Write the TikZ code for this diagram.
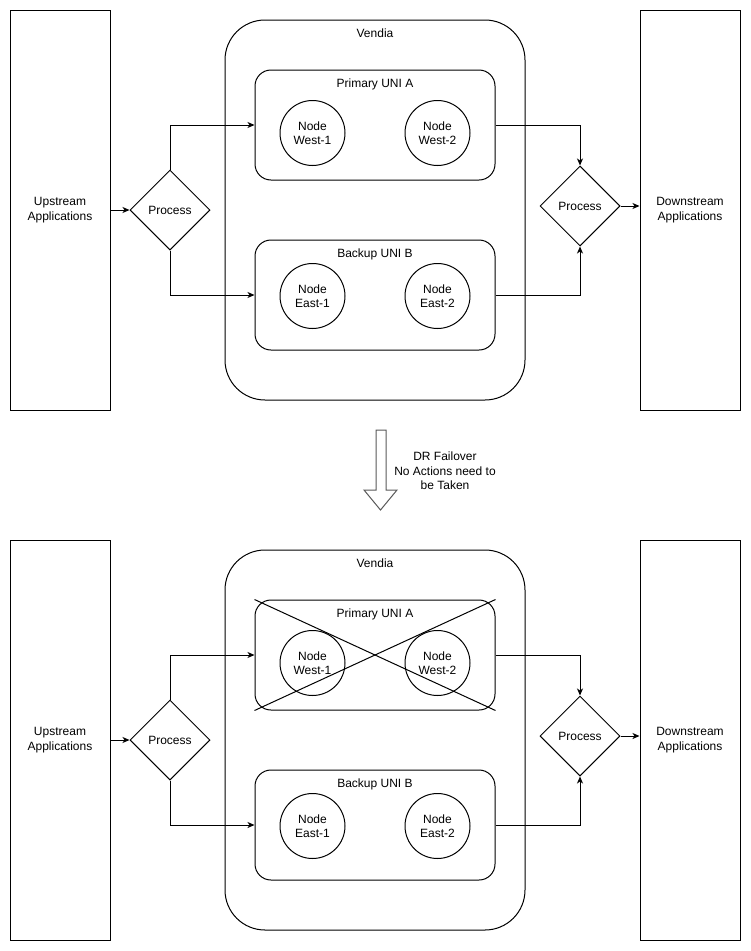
\documentclass[tikz,border=0pt]{standalone}
\usepackage{fontspec}
\setmainfont{Liberation Sans}
\usetikzlibrary{shapes.geometric,arrows.meta}

\tikzset{
  txt/.style={font=\fontsize{12}{14.4}\selectfont,align=center},
  appbox/.style={txt,draw,rectangle,minimum width=100pt,minimum height=400pt},
  procbox/.style={txt,draw,diamond,minimum width=80pt,minimum height=80pt,inner sep=1pt},
  vendbox/.style={draw,rectangle,rounded corners=40pt,minimum width=300pt,minimum height=380pt},
  unibox/.style={draw,rectangle,rounded corners=16pt,minimum width=240pt,minimum height=110pt},
  nodecirc/.style={txt,draw,circle,minimum size=65pt,inner sep=0pt},
  boxlabel/.style={txt,anchor=north,yshift=-5.5pt},
  arr/.style={-{Stealth[length=7pt,width=6pt,inset=2pt]}},
}

\begin{document}
\begin{tikzpicture}[x=1pt,y=-1pt,line width=1pt]
\useasboundingbox (0,0) rectangle (751,951);

% the same layout, before and after the failover
\foreach \p/\oy in {a/0,b/530} {
  \node[appbox] (up\p) at (60,210+\oy) {Upstream\\Applications};
  \node[appbox] (down\p) at (690,210+\oy) {Downstream\\Applications};
  \node[procbox] (procin\p) at (170,210+\oy) {Process};
  \node[procbox] (procout\p) at (580,206+\oy) {Process};

  \node[vendbox,label={[boxlabel]north:Vendia}] (vendia\p) at (375,210+\oy) {};
  \node[unibox,label={[boxlabel]north:Primary UNI A}] (prim\p) at (375,125+\oy) {};
  \node[unibox,label={[boxlabel]north:Backup UNI B}] (back\p) at (375,295+\oy) {};

  \node[nodecirc] (west1\p) at (312.5,133+\oy) {Node\\West-1};
  \node[nodecirc] (west2\p) at (437.5,133+\oy) {Node\\West-2};
  \node[nodecirc] (east1\p) at (312.5,296+\oy) {Node\\East-1};
  \node[nodecirc] (east2\p) at (437.5,296+\oy) {Node\\East-2};

  \draw[arr] (up\p.east |- procin\p.west) -- (procin\p.west);
  \draw[arr] (procin\p.north) |- (prim\p.west);
  \draw[arr] (procin\p.south) |- (back\p.west);
  \draw[arr] (prim\p.east) -| (procout\p.north);
  \draw[arr] (back\p.east) -| (procout\p.south);
  \draw[arr] (procout\p.east) -- (procout\p.east -| down\p.west);
}

% primary uni is down
\draw (primb.north west) -- (primb.south east);
\draw (primb.north east) -- (primb.south west);

% failover arrow
\draw[gray!70!black,fill=white] (376,430) -- (386,430) -- (386,490) -- (397,490)
  -- (380.5,510) -- (364,490) -- (376,490) -- cycle;
\node[txt] (fail) at (445,471) {DR Failover\\No Actions need to\\be Taken};

\end{tikzpicture}
\end{document}
